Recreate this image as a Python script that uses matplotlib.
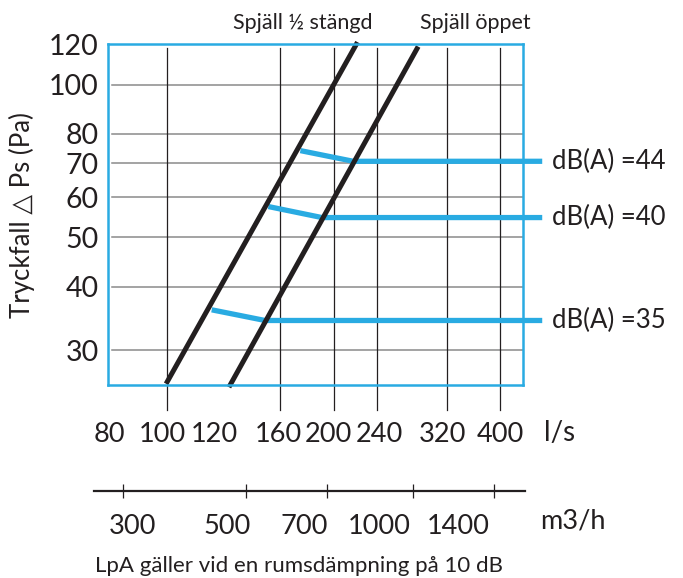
import numpy as np
import matplotlib
matplotlib.use("Agg")
import matplotlib.pyplot as plt
import matplotlib.transforms as mtransforms

plt.rcParams['font.family'] = ['Lato', 'DejaVu Sans']

# flow (l/s) and pressure drop (Pa)
q_half = [100.2, 219.8]      # Spjäll ½ stängd
dp_half = [26.0, 120.0]
q_open = [130.1, 282.8]      # Spjäll öppet
dp_open = [25.6, 117.6]

# sound level curves
db_labels = ['dB(A) =44', 'dB(A) =40', 'dB(A) =35']
q_44 = [174.2, 217.0, 476.0]
dp_44 = [74.1, 70.6, 70.6]
q_40 = [152.5, 190.5, 476.0]
dp_40 = [57.5, 54.7, 54.7]
q_35 = [120.5, 150.4, 476.0]
dp_35 = [36.0, 34.3, 34.3]

ls_ticks = [80, 100, 120, 160, 200, 240, 320, 400]
ls_grid = [100, 160, 200, 240, 320, 400]
pa_ticks = [30, 40, 50, 60, 70, 80, 100, 120]
pa_grid = [30, 40, 50, 60, 70, 80, 100]
m3h_ticks = [300, 500, 700, 1000, 1400]

W, H = 683, 578
fig = plt.figure(figsize=(W / 100, H / 100), dpi=100)

# main axes box (pixels)
x0, x1, ytop, ybot = 108.3, 523.3, 44.3, 385.0
ax = fig.add_axes([x0 / W, 1 - ybot / H, (x1 - x0) / W, (ybot - ytop) / H])
ax.set_xscale('log')
ax.set_yscale('log')
xlim = (78.4, 440.0)
ax.set_xlim(*xlim)
ax.set_ylim(25.6, 120)

blue = '#29abe2'
black = '#231f20'

for s in ax.spines.values():
    s.set_color(blue)
    s.set_linewidth(1.8)
    s.set_zorder(5)

for y in pa_grid:
    ax.axhline(y, xmin=0.008, xmax=1, color='#8a8a8a', lw=1.1, zorder=1)
for x in ls_grid:
    ax.axvline(x, ymin=-0.073, ymax=0.99, color=black, lw=0.9, zorder=1,
               clip_on=False)

def nudge(labels, shifts):
    for lbl, s in zip(labels, shifts):
        lbl.set_transform(lbl.get_transform() +
                          mtransforms.ScaledTranslation(s / 100, 0, fig.dpi_scale_trans))

ax.set_xticks(ls_ticks)
ax.set_xticklabels([str(v) for v in ls_ticks])
ax.set_yticks(pa_ticks)
ax.set_yticklabels([str(v) for v in pa_ticks])
ax.minorticks_off()
ax.tick_params(axis='x', length=0, pad=27, labelsize=19.5, colors=black)
ax.tick_params(axis='y', length=0, pad=7, labelsize=20.5, colors=black)
nudge(ax.get_xticklabels(), [-4, -4, 4, -2, -5, 2, -4, 0])
ax.set_ylabel('Tryckfall △ Ps (Pa)', fontsize=18.5, color=black, labelpad=10)

for q, dp, lab in zip([q_44, q_40, q_35], [dp_44, dp_40, dp_35], db_labels):
    ax.plot(q, dp, color=blue, lw=3.8, solid_capstyle='butt', clip_on=False,
            zorder=3)
    ax.annotate(lab, (q[-1], dp[-1]), xytext=(7, 0), textcoords='offset points',
                va='center', ha='left', fontsize=18.5, color=black,
                annotation_clip=False)

ax.plot(q_half, dp_half, color=black, lw=3.6, clip_on=False, zorder=4)
ax.plot(q_open, dp_open, color=black, lw=3.6, clip_on=False, zorder=4)

fig.text(303 / W, 1 - 23 / H, 'Spjäll ½ stängd', ha='center', va='center',
         fontsize=15.5, color=black)
fig.text(475 / W, 1 - 23 / H, 'Spjäll öppet', ha='center', va='center',
         fontsize=15.5, color=black)
fig.text(560 / W, 1 - 433 / H, 'l/s', ha='center', va='center',
         fontsize=20, color=black)

# m3/h scale below
b0, b1, by = 94.0, 525.0, 490.7
lx0, lx1 = np.log10(xlim[0] * 3.6), np.log10(xlim[1] * 3.6)
per_px = (lx1 - lx0) / (x1 - x0)
ax2 = fig.add_axes([b0 / W, 1 - by / H, (b1 - b0) / W, 0.0001])
ax2.set_xscale('log')
ax2.set_xlim(10 ** (lx0 - (x0 - b0) * per_px), 10 ** (lx1 + (b1 - x1) * per_px))
for k in ['top', 'left', 'right']:
    ax2.spines[k].set_visible(False)
ax2.spines['bottom'].set_color(black)
ax2.spines['bottom'].set_linewidth(1.6)
ax2.set_yticks([])
ax2.set_xticks(m3h_ticks)
ax2.set_xticklabels([str(v) for v in m3h_ticks])
ax2.minorticks_off()
ax2.tick_params(axis='x', direction='inout', length=10, width=0.9,
                colors=black, labelsize=19.5, pad=12)
nudge(ax2.get_xticklabels(), [9, -19, -23, -33, -35])
fig.text(573 / W, 1 - 521 / H, 'm3/h', ha='center', va='center',
         fontsize=19.5, color=black)

fig.text(95 / W, 1 - 566 / H, 'LpA gäller vid en rumsdämpning på 10 dB',
         ha='left', va='center', fontsize=16, color=black)

fig.savefig('out.png', dpi=100)
